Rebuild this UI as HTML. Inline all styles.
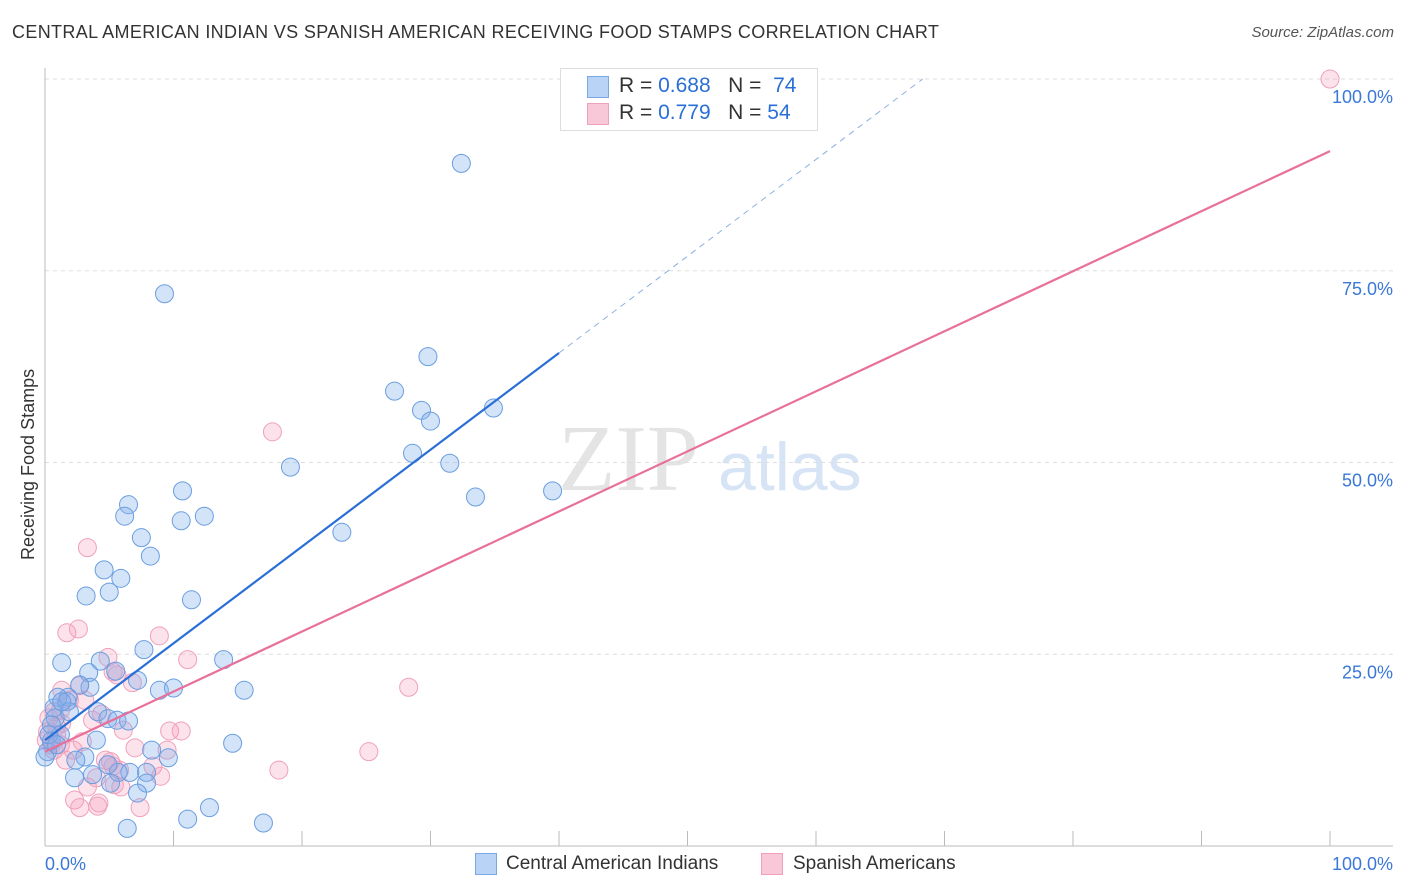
<!DOCTYPE html>
<html><head><meta charset="utf-8"><style>
body{margin:0;background:#fff;font-family:"Liberation Sans",sans-serif;}
#wrap{position:relative;width:1406px;height:892px;overflow:hidden;}
.t{position:absolute;white-space:nowrap;}
</style></head><body>
<div id="wrap">
<div class="t" style="left:12px;top:22px;font-size:18px;letter-spacing:0.35px;color:#333;">CENTRAL AMERICAN INDIAN VS SPANISH AMERICAN RECEIVING FOOD STAMPS CORRELATION CHART</div>
<div class="t" style="right:12px;top:24px;font-size:15px;color:#555;font-style:italic;">Source: ZipAtlas.com</div>
<div class="t" style="left:18px;top:560px;font-size:18px;color:#333;transform:rotate(-90deg);transform-origin:0 0;">Receiving Food Stamps</div>
<svg id="svg" width="1406" height="892" style="position:absolute;left:0;top:0">
<text x="558" y="490" font-size="94" fill="#e4e4e4" font-family="Liberation Serif,serif">ZIP</text>
<text x="718" y="490" font-size="68" fill="#d6e4f6" font-family="Liberation Sans,sans-serif">atlas</text>
</svg>
<div style="position:absolute;left:560px;top:68px;width:256px;height:61px;border:1px solid #ddd;background:#fff;">
<div style="position:absolute;left:26px;top:7px;width:20px;height:20px;background:#b8d3f5;border:1px solid #7aa8e6;"></div>
<div class="t" style="left:58px;top:5px;font-size:21px;color:#333;">R = <span style="color:#2a6fd6">0.688</span>&nbsp;&nbsp;&nbsp;N = &nbsp;<span style="color:#2a6fd6">74</span></div>
<div style="position:absolute;left:26px;top:34px;width:20px;height:20px;background:#f8c8d8;border:1px solid #f0a0bc;"></div>
<div class="t" style="left:58px;top:32px;font-size:21px;color:#333;">R = <span style="color:#2a6fd6">0.779</span>&nbsp;&nbsp;&nbsp;N = <span style="color:#2a6fd6">54</span></div>
</div>
<div style="position:absolute;left:475px;top:853px;width:20px;height:20px;background:#b8d3f5;border:1px solid #7aa8e6;"></div>
<div class="t" style="left:506px;top:853px;font-size:19px;color:#333;">Central American Indians</div>
<div style="position:absolute;left:761px;top:853px;width:20px;height:20px;background:#f8c8d8;border:1px solid #f0a0bc;"></div>
<div class="t" style="left:793px;top:853px;font-size:19px;color:#333;">Spanish Americans</div>
</div>
<script>
const blueX=[32.4,9.3,29.8,27.2,29.3,30.0,34.9,28.6,31.5,19.1,33.5,39.5,10.7,6.5,6.2,10.6,12.4,23.1,7.5,8.2,4.6,5.9,5.0,3.2,11.4,7.7,1.3,4.3,13.9,3.4,5.5,8.9,15.5,7.2,10.0,3.5,1.8,1.0,2.7,0.7,1.7,4.1,0.8,4.9,5.6,6.5,0.5,4.0,14.6,8.3,0.2,3.1,9.6,2.4,6.6,7.9,3.7,5.7,2.3,5.1,7.9,7.2,12.8,11.1,6.4,17.0,0.5,1.2,0.3,0.9,0.0,1.9,1.3,4.9];
const blueY=[89.0,72.0,63.8,59.3,56.8,55.4,57.1,51.2,49.9,49.4,45.5,46.3,46.3,44.5,43.0,42.4,43.0,40.9,40.2,37.8,36.0,34.9,33.1,32.6,32.1,25.6,23.9,24.1,24.3,22.6,22.8,20.3,20.3,21.6,20.6,20.7,19.4,19.4,21.0,18.0,18.8,17.5,16.7,16.6,16.4,16.3,15.8,13.8,13.4,12.5,12.3,11.6,11.5,11.2,9.6,9.6,9.3,9.6,8.9,8.2,8.2,6.9,5.0,3.5,2.3,3.0,13.7,14.5,14.5,13.2,11.6,17.5,18.8,10.6];
const pinkX=[100,17.7,3.3,1.7,2.6,8.9,11.1,4.9,5.3,5.6,6.8,2.7,28.3,1.3,1.9,3.1,1.2,0.7,4.4,0.3,1.3,0.9,6.1,9.7,10.6,0.1,0.5,0.7,7.0,9.5,25.2,2.2,2.9,1.6,5.1,5.3,5.8,8.4,9.0,18.2,4.0,3.3,5.9,5.4,2.3,4.2,4.1,7.4,2.7,0.9,0.2,3.7,1.2,4.7];
const pinkY=[100,54.0,38.9,27.8,28.3,27.4,24.3,24.6,22.7,22.3,21.3,20.9,20.7,20.3,19.0,19.0,17.7,17.5,17.2,16.7,16.0,15.6,15.1,15.0,15.0,13.8,13.2,12.5,12.8,12.5,12.3,12.5,13.6,11.2,11.0,10.4,9.9,10.4,9.1,9.9,8.9,7.7,7.7,8.0,6.0,5.6,5.2,5.0,5.0,14.5,14.9,16.4,13.2,11.2];
const blueLine=[13.8,1.262];
const pinkLine=[12.3,0.783];
const yTicks=[25,50,75,100];
const xTicks=[0,10,20,30,40,50,60,70,80,90,100];
const NS='http://www.w3.org/2000/svg';
const svg=document.getElementById('svg');
const sx=v=>45+v*12.85, sy=v=>846-v*7.67;
function mk(t,a){const e=document.createElementNS(NS,t);for(const k in a)e.setAttribute(k,a[k]);svg.appendChild(e);return e;}
yTicks.forEach(v=>{
 const g=mk('line',{x1:45,x2:1393,y1:sy(v),y2:sy(v),stroke:'#ddd','stroke-dasharray':'4,4'});
 
 
 const t=mk('text',{x:1393,y:sy(v)+24,'text-anchor':'end','font-size':18,fill:'#3a78d8','font-family':'Liberation Sans,sans-serif'});
 t.textContent=v.toFixed(1)+'%';
 
 
});
const ax=mk('line',{x1:45,x2:45,y1:68,y2:846,stroke:'#bbb'});


const bx=mk('line',{x1:45,x2:1393,y1:846,y2:846,stroke:'#bbb'});


xTicks.forEach(v=>{
 const l=mk('line',{x1:sx(v),x2:sx(v),y1:831,y2:846,stroke:'#bbb'});
 
 
});
[[0,'0.0%','start',45],[100,'100.0%','end',1393]].forEach(d=>{
 const t=mk('text',{x:d[3],y:870,'text-anchor':d[2],'font-size':18,fill:'#3a78d8','font-family':'Liberation Sans,sans-serif'});
 t.textContent=d[1];
 
 
});
pinkX.forEach((x,i)=>{
 const c=mk('circle',{cx:sx(x),cy:sy(pinkY[i]),r:9,fill:'rgba(244,160,190,0.3)',stroke:'#f0a0bc','stroke-width':1});
 
 
});
blueX.forEach((x,i)=>{
 const c=mk('circle',{cx:sx(x),cy:sy(blueY[i]),r:9,fill:'rgba(130,175,235,0.35)',stroke:'#6a9ee0','stroke-width':1});
 
 
});
const bl=mk('line',{x1:sx(0),y1:sy(blueLine[0]),x2:sx(40),y2:sy(blueLine[0]+40*blueLine[1]),stroke:'#2a6fd6','stroke-width':2.2});


const xe=(100-blueLine[0])/blueLine[1];
const bd=mk('line',{x1:sx(40),y1:sy(blueLine[0]+40*blueLine[1]),x2:sx(xe),y2:sy(100),stroke:'#8ab0e0','stroke-width':1,'stroke-dasharray':'6,5'});


const pl=mk('line',{x1:sx(0),y1:sy(pinkLine[0]),x2:sx(100),y2:sy(pinkLine[0]+100*pinkLine[1]),stroke:'#e8709a','stroke-width':2.2});


</script>
</body></html>
